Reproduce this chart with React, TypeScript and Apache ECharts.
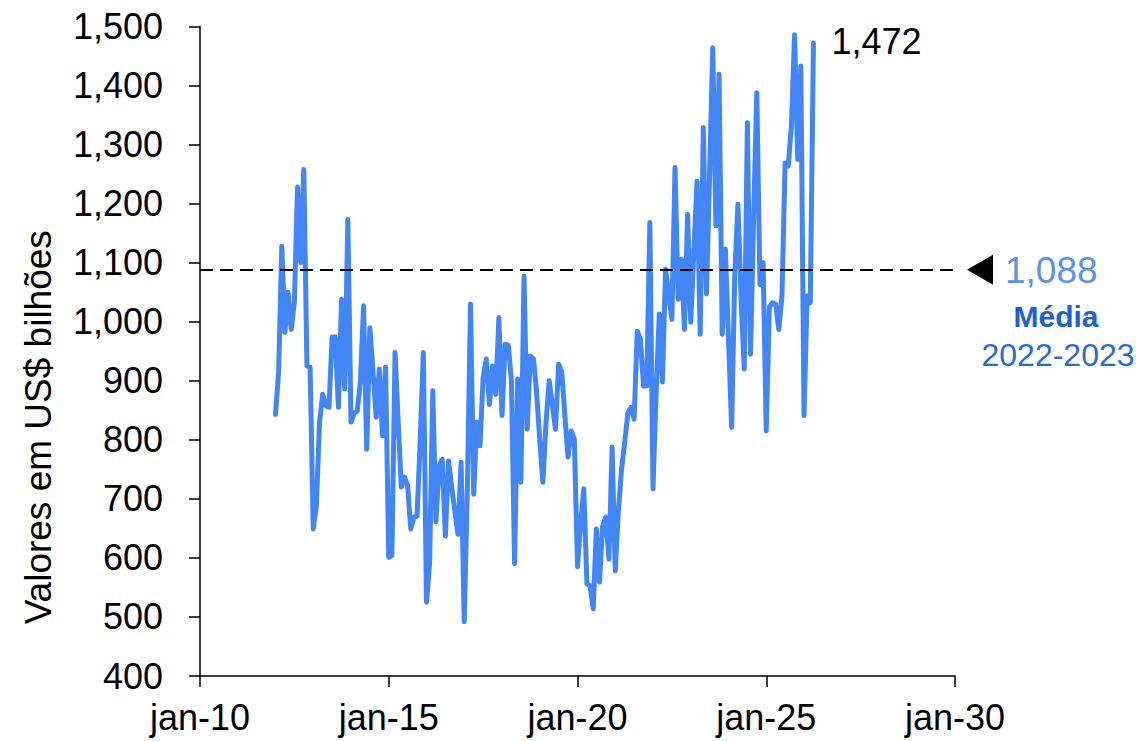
import React, { useEffect, useRef } from "react";
import * as echarts from "echarts";

// Monthly values, US$ billions, starting Jan 2012
const START_YEAR = 2012;
const values: number[] = [
  // 2012
  843, 915, 1128, 982, 1050, 987, 1033, 1228, 1100, 1258, 925, 923,
  // 2013
  649, 688, 830, 877, 858, 855, 974, 974, 855, 1038, 886, 1173,
  // 2014
  830, 845, 849, 900, 1027, 784, 990, 915, 838, 920, 807, 923,
  // 2015
  601, 604, 948, 830, 720, 737, 722, 649, 669, 671, 800, 948,
  // 2016
  525, 593, 883, 661, 756, 767, 637, 764, 720, 680, 640, 762,
  // 2017
  492, 720, 1030, 708, 830, 790, 905, 937, 860, 925, 877, 1007,
  // 2018
  841, 962, 960, 900, 590, 903, 728, 1077, 818, 942, 937, 880,
  // 2019
  800, 728, 830, 900, 860, 818, 928, 915, 840, 771, 815, 801,
  // 2020
  585, 660, 717, 556, 553, 514, 649, 559, 654, 669, 598, 788,
  // 2021
  578, 680, 750, 796, 845, 855, 835, 984, 970, 891, 891, 1168,
  // 2022
  717, 880, 1013, 898, 1089, 1044, 1004, 1261, 1038, 1106, 987, 1182,
  // 2023
  999, 1120, 1238, 979, 1329, 1047, 1250, 1464, 1162, 1419, 979, 1123,
  // 2024
  970, 821, 1080, 1199, 1040, 920, 1337, 945, 1180, 1388, 1063, 1100,
  // 2025
  815, 1025, 1032, 1030, 987, 1044, 1269, 1264, 1331, 1486, 1275, 1433,
  // 2026
  841, 1044, 1032, 1472,
];

const MEAN_2022_2023 = 1088;
const X_MIN = 2010;
const X_MAX = 2030;
const X_STEP = 5;
const Y_MIN = 400;
const Y_MAX = 1500;
const Y_STEP = 100;
const Y_TITLE = "Valores em US$ bilhões";
const MEAN_LABEL = "Média";
const MEAN_PERIOD = "2022-2023";

const FONT = "'Liberation Sans', Arial, Helvetica, sans-serif";
const LINE_COLOR = "#4285f4";

const fmt = (v: number) => v.toLocaleString("en-US");

export default function App() {
  const ref = useRef<HTMLDivElement>(null);

  useEffect(() => {
    document.body.style.margin = "0";
    if (!ref.current) return;
    const chart = echarts.init(ref.current, undefined, { renderer: "svg" });

    const data = values.map((v, i) => [START_YEAR + i / 12, v]);

    chart.setOption({
      animation: false,
      textStyle: { fontFamily: FONT },
      grid: { left: 200, right: 181, top: 26.5, bottom: 65, containLabel: false },
      xAxis: {
        type: "value",
        min: X_MIN,
        max: X_MAX,
        interval: X_STEP,
        splitLine: { show: false },
        axisLine: { show: true, onZero: false, lineStyle: { color: "#000", width: 1.5 } },
        axisTick: { show: true, inside: false, length: 11, lineStyle: { color: "#000", width: 1.5 } },
        axisLabel: {
          formatter: (v: number) => "jan-" + String(Math.round(v)).slice(2),
          color: "#000",
          fontSize: 36,
          fontFamily: FONT,
          margin: 23,
        },
      },
      yAxis: {
        type: "value",
        min: Y_MIN,
        max: Y_MAX,
        interval: Y_STEP,
        splitLine: { show: false },
        axisLine: { show: true, lineStyle: { color: "#000", width: 1.5 } },
        axisTick: { show: true, inside: false, length: 11, lineStyle: { color: "#000", width: 1.5 } },
        axisLabel: {
          formatter: (v: number) => fmt(v),
          color: "#000",
          fontSize: 36,
          fontFamily: FONT,
          margin: 37,
        },
      },
      series: [
        {
          type: "line",
          data,
          showSymbol: false,
          symbol: "none",
          lineStyle: { color: LINE_COLOR, width: 5, cap: "round", join: "round" },
          endLabel: {
            show: true,
            formatter: (p: any) => fmt(p.value[1]),
            color: "#000",
            fontSize: 36,
            fontFamily: FONT,
            distance: 18,
            offset: [0, -2],
          },
          markLine: {
            silent: true,
            symbol: "none",
            label: { show: false },
            lineStyle: { color: "#000", type: [13, 7], width: 1.8 },
            data: [{ yAxis: MEAN_2022_2023 }],
          },
          z: 3,
        },
      ],
    });

    const [px, py] = chart.convertToPixel({ gridIndex: 0 }, [X_MAX, MEAN_2022_2023]) as number[];
    const [, ty] = chart.convertToPixel({ gridIndex: 0 }, [X_MIN, (Y_MIN + Y_MAX) / 2]) as number[];

    chart.setOption({
      graphic: [
        {
          type: "polygon",
          shape: { points: [[px + 12, py], [px + 38, py - 15], [px + 38, py + 15]] },
          style: { fill: "#000" },
        },
        {
          type: "text",
          x: px + 50,
          y: py + 1,
          style: {
            text: fmt(MEAN_2022_2023),
            fill: "#5a91f0",
            font: `37px ${FONT}`,
            align: "left",
            verticalAlign: "middle",
          },
        },
        {
          type: "text",
          x: px + 101,
          y: py + 47,
          style: {
            text: MEAN_LABEL,
            fill: "#1c5fd8",
            font: `bold 30px ${FONT}`,
            align: "center",
            verticalAlign: "middle",
          },
        },
        {
          type: "text",
          x: px + 103,
          y: py + 85,
          style: {
            text: MEAN_PERIOD,
            fill: "#2a6ad8",
            font: `32px ${FONT}`,
            align: "center",
            verticalAlign: "middle",
          },
        },
        {
          type: "text",
          x: 38,
          y: ty + 76,
          rotation: Math.PI / 2,
          style: {
            text: Y_TITLE,
            fill: "#000",
            font: `37px ${FONT}`,
            align: "center",
            verticalAlign: "middle",
          },
        },
      ],
    });

    return () => chart.dispose();
  }, []);

  return <div ref={ref} style={{ width: 1136, height: 741 }} />;
}
